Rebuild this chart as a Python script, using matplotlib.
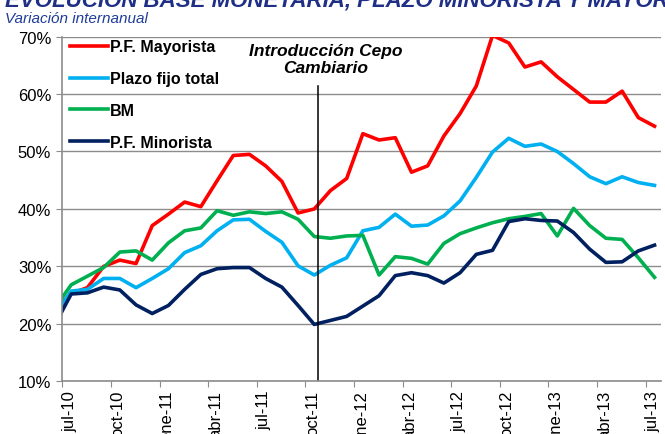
import numpy as np
import matplotlib
matplotlib.use('Agg')
import matplotlib.pyplot as plt

plt.rcParams['font.family'] = ['Liberation Sans', 'DejaVu Sans']

# meses (jun-10 queda fuera del eje, se recorta en el borde izquierdo)
meses = ['jun-10', 'jul-10', 'ago-10', 'sep-10', 'oct-10', 'nov-10', 'dic-10',
         'ene-11', 'feb-11', 'mar-11', 'abr-11', 'may-11', 'jun-11', 'jul-11',
         'ago-11', 'sep-11', 'oct-11', 'nov-11', 'dic-11', 'ene-12', 'feb-12',
         'mar-12', 'abr-12', 'may-12', 'jun-12', 'jul-12', 'ago-12', 'sep-12',
         'oct-12', 'nov-12', 'dic-12', 'ene-13', 'feb-13', 'mar-13', 'abr-13',
         'may-13', 'jun-13', 'jul-13']

pf_mayorista = [22.4, 25.3, 26.3, 30.0, 31.1, 30.5, 37.1, 39.1, 41.2, 40.4,
                44.9, 49.3, 49.5, 47.5, 44.8, 39.3, 40.0, 43.2, 45.3, 53.1,
                52.0, 52.4, 46.4, 47.5, 52.7, 56.6, 61.4, 70.2, 68.9, 64.7,
                65.6, 63.0, 60.8, 58.6, 58.6, 60.5, 55.9, 54.4]

plazo_fijo_total = [21.6, 25.7, 26.0, 27.9, 27.9, 26.3, 27.9, 29.6, 32.4, 33.6,
                    36.2, 38.1, 38.2, 36.1, 34.2, 30.1, 28.5, 30.2, 31.5, 36.2,
                    36.8, 39.1, 37.0, 37.2, 38.8, 41.4, 45.5, 49.9, 52.3, 50.9,
                    51.3, 50.0, 47.9, 45.6, 44.4, 45.6, 44.6, 44.1]

bm = [22.8, 26.8, 28.3, 29.8, 32.5, 32.7, 31.1, 34.1, 36.2, 36.7,
      39.7, 38.9, 39.5, 39.2, 39.5, 38.2, 35.2, 34.9, 35.3, 35.4,
      28.5, 31.7, 31.4, 30.4, 34.0, 35.7, 36.7, 37.6, 38.3, 38.7,
      39.2, 35.3, 40.1, 37.1, 34.9, 34.7, 31.5, 28.1]

pf_minorista = [19.9, 25.2, 25.4, 26.4, 25.9, 23.3, 21.8, 23.2, 26.0, 28.6,
                29.6, 29.8, 29.8, 27.9, 26.4, 23.2, 19.9, 20.6, 21.3, 23.1,
                24.9, 28.4, 28.9, 28.4, 27.1, 28.9, 32.1, 32.8, 37.8, 38.3,
                38.0, 37.9, 35.9, 33.0, 30.7, 30.8, 32.7, 33.7]

titulo = 'EVOLUCIÓN BASE MONETARIA, PLAZO MINORISTA Y MAYORISTA'
subtitulo = 'Variación internanual'
nota = 'Introducción Cepo\nCambiario'

# posiciones: mes 0 = jul-10, dato a mitad de mes
x = np.arange(len(meses)) - 1 + 0.55

fig = plt.figure(figsize=(6.65, 4.35), dpi=100)
ax = fig.add_axes([0.0937, 0.1211, 0.9003, 0.7925])

ax.plot(x, pf_mayorista, color='#FF0000', lw=2.6, label='P.F. Mayorista')
ax.plot(x, plazo_fijo_total, color='#00B0F0', lw=2.6, label='Plazo fijo total')
ax.plot(x, bm, color='#00B050', lw=2.6, label='BM')
ax.plot(x, pf_minorista, color='#002060', lw=2.6, label='P.F. Minorista')

ax.set_xlim(0, 36.95)
ax.set_ylim(10, 70)

ax.set_yticks(range(10, 71, 10))
ax.set_yticklabels([f'{v}%' for v in range(10, 71, 10)], fontsize=12)
ax.yaxis.grid(True, color='#8C8C8C', lw=1)
ax.set_axisbelow(True)

ticks = np.arange(0, 37, 3)
ax.set_xticks(ticks)
ax.set_xticklabels([])
ax.set_xticks(ticks + 0.45, minor=True)
ax.set_xticklabels(meses[1::3], minor=True, rotation=90, fontsize=12)
ax.tick_params(axis='x', which='major', length=4, color='#8C8C8C')
ax.tick_params(axis='x', which='minor', length=0, pad=6)
ax.tick_params(axis='y', length=4, color='#8C8C8C', pad=4)

for s in ['top', 'right']:
    ax.spines[s].set_visible(False)
for s in ['left', 'bottom']:
    ax.spines[s].set_color('#8C8C8C')
    ax.spines[s].set_linewidth(1.2)

# cepo cambiario
ax.axvline(15.78, ymin=0, ymax=0.858, color='black', lw=1.1)
ax.text(16.27, 0.935, nota, transform=ax.get_xaxis_transform(), ha='center',
        va='center', fontsize=12.5, fontweight='bold', style='italic',
        linespacing=1.1)

ax.legend(loc='upper left', bbox_to_anchor=(0.013, 0.992), frameon=False,
          borderpad=0, borderaxespad=0, handlelength=2.4, handletextpad=0.1,
          labelspacing=1.05, prop={'weight': 'bold', 'size': 11.5})

fig.text(0.008, 1 - 7 / 435, titulo, va='baseline', ha='left', fontsize=16,
         fontweight='bold', style='italic', color='#1F2F86')
fig.text(0.008, 1 - 23 / 435, subtitulo, va='baseline', ha='left', fontsize=11,
         style='italic', color='#1F3C99')

fig.savefig('out.png', dpi=100)
